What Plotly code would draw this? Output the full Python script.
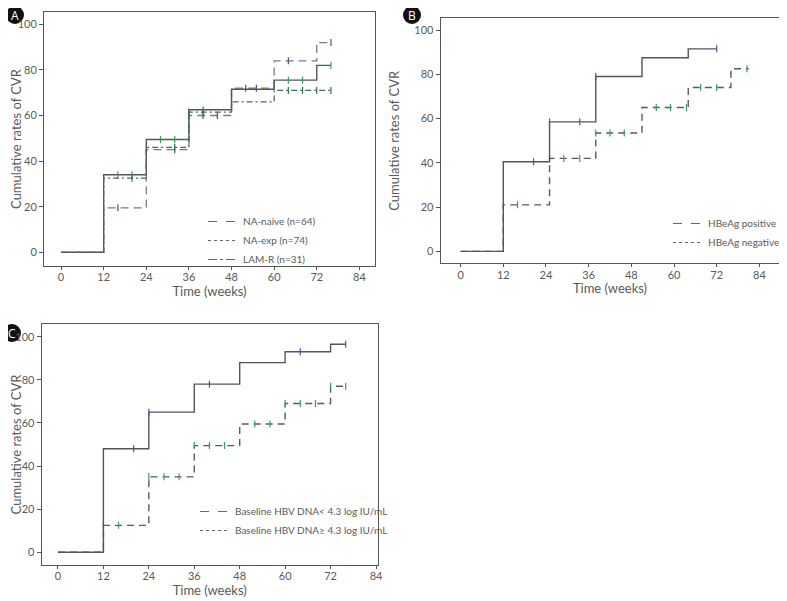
import plotly.graph_objects as go

# ---------------- data ----------------
# Panel A
A_time = [0, 12, 24, 36, 48, 60, 72, 76]
A_naive = [0, 19.5, 45, 60, 72, 84, 92, 92]
A_exp = [0, 34, 49.5, 62.5, 71.5, 75.5, 82, 82]
A_lamr = [0, 32.5, 46, 61.5, 66, 71, 71, 71]
A_naive_cens = [16, 32, 40, 44, 52, 55, 64, 76]
A_exp_cens = [16, 20, 28, 32, 40, 64, 68, 76]
A_lamr_cens = [20, 32, 36, 40, 64, 68, 72, 76]
A_names = ["NA-naive (n=64)", "NA-exp (n=74)", "LAM-R (n=31)"]

# Panel B
B_time_neg = [0, 12, 25, 38, 51, 64, 72]
B_neg = [0, 40.5, 58.5, 79, 87.5, 91.5, 91.5]
B_time_pos = [0, 12, 25, 38, 51, 64, 76, 81]
B_pos = [0, 21, 42, 53.5, 65, 74, 82.5, 82.5]
B_neg_cens = [20.5, 25, 33.5, 38, 72]
B_pos_cens = [16, 25, 29, 33.5, 38, 42, 46, 55, 59, 63.5, 67.5, 72, 80.5]
B_names = ["HBeAg positive", "HBeAg negative"]

# Panel C
C_time = [0, 12, 24, 36, 48, 60, 72, 76]
C_high = [0, 48, 65, 78, 88, 93, 96.5, 96.5]
C_low = [0, 12.5, 35, 49.5, 59.5, 69, 77, 77]
C_high_cens = [20, 24, 40, 64, 76]
C_low_cens = [12, 16, 24, 28, 32, 36, 40, 44, 52, 56, 60, 64, 68, 72, 76]
C_names = ["Baseline HBV DNA< 4.3 log IU/mL", "Baseline HBV DNA\u2265 4.3 log IU/mL"]

x_ticks = [0, 12, 24, 36, 48, 60, 72, 84]
y_ticks = [0, 20, 40, 60, 80, 100]

# ---------------- helpers ----------------
OFF = 8                      # page body margin
W, H = 787 - OFF, 601 - OFF  # figure size that fills the visible window
FONT = "Lato, Open Sans, sans-serif"
GREY = "#555555"
TXT = "#5a5a5a"
BLUE = "#5050b0"
GREEN = "#2fa35a"


def px(x):
    return (x - OFF) / W


def py(y):
    return 1 - (y - OFF) / H


def step_val(times, vals, t):
    v = vals[0]
    for ti, vi in zip(times, vals):
        if t >= ti - 1e-9:
            v = vi
    return v


fig = go.Figure()


def add_curve(xa, ya, times, vals, cens, color, dash, width, mcolor):
    fig.add_trace(go.Scatter(x=times, y=vals, mode="lines", line_shape="hv",
                             line=dict(color=color, dash=dash, width=width),
                             xaxis=xa, yaxis=ya, showlegend=False, hoverinfo="skip"))
    fig.add_trace(go.Scatter(x=cens, y=[step_val(times, vals, t) for t in cens], mode="markers",
                             marker=dict(symbol="line-ns", size=5, line=dict(color=mcolor, width=1.2)),
                             xaxis=xa, yaxis=ya, showlegend=False, hoverinfo="skip"))


def add_legend_item(xa, ya, name, dash, legend):
    fig.add_trace(go.Scatter(x=[None], y=[None], mode="lines", name=name,
                             line=dict(color="#666666", dash=dash, width=1),
                             xaxis=xa, yaxis=ya, showlegend=True, legend=legend))


# Panel A
add_curve("x", "y", A_time, A_naive, A_naive_cens, "#7a7a88", "8px,5px", 1.3, "#4b4b9b")
add_curve("x", "y", A_time, A_exp, A_exp_cens, GREY, "solid", 1.4, GREEN)
add_curve("x", "y", A_time, A_lamr, A_lamr_cens, "#4d6b5c", "6px,3px,2px,3px", 1.3, "#2e6e4e")
for name, d in zip(A_names, ["dash", "dot", "dashdot"]):
    add_legend_item("x", "y", name, d, "legend")

# Panel B
add_curve("x2", "y2", B_time_pos, B_pos, B_pos_cens, "#5a5a5a", "7px,5px", 1.4, GREEN)
add_curve("x2", "y2", B_time_neg, B_neg, B_neg_cens, GREY, "solid", 1.4, BLUE)
for name, d in zip(B_names, ["dash", "dot"]):
    add_legend_item("x2", "y2", name, d, "legend2")

# Panel C
add_curve("x3", "y3", C_time, C_low, C_low_cens, "#5a5a5a", "7px,5px", 1.4, GREEN)
add_curve("x3", "y3", C_time, C_high, C_high_cens, GREY, "solid", 1.4, BLUE)
for name, d in zip(C_names, ["dash", "dot"]):
    add_legend_item("x3", "y3", name, d, "legend3")


# ---------------- axes ----------------
def xaxis(domain, rng, anchor):
    return dict(domain=domain, range=rng, anchor=anchor, tickvals=x_ticks,
                ticks="outside", ticklen=3, tickcolor=GREY, showline=True, linecolor=GREY,
                linewidth=1, mirror=True, showgrid=False, zeroline=False, automargin=False,
                tickfont=dict(family=FONT, size=11, color=TXT), ticklabelstandoff=-2,
                title=dict(text="Time (weeks)", font=dict(family=FONT, size=13, color=TXT), standoff=2))


def yaxis(domain, rng, anchor):
    return dict(domain=domain, range=rng, anchor=anchor, tickvals=y_ticks,
                ticks="outside", ticklen=4, tickcolor=GREY, showline=True, linecolor=GREY,
                linewidth=1, mirror=True, showgrid=False, zeroline=False, automargin=False,
                tickfont=dict(family=FONT, size=11, color=TXT),
                title=dict(text="Cumulative rates of CVR", font=dict(family=FONT, size=13, color=TXT), standoff=11))


legend_common = dict(bgcolor="rgba(0,0,0,0)", font=dict(family=FONT, size=10, color=TXT),
                     xanchor="left", yanchor="top", itemwidth=30, tracegroupgap=0)

fig.update_layout(
    width=W, height=H, margin=dict(l=0, r=0, t=0, b=0),
    paper_bgcolor="white", plot_bgcolor="white",
    xaxis=xaxis([px(44), px(375)], [-4.8, 88.4], "y"),
    yaxis=yaxis([py(266), py(12)], [-6.0, 105.4], "x"),
    xaxis2=xaxis([px(440.7), px(779.3)], [-5.6, 89.6], "y2"),
    yaxis2=yaxis([py(263.3), py(18.3)], [-5.4, 105.3], "x2"),
    xaxis3=xaxis([px(41.7), px(377.7)], [-4.3, 84.45], "y3"),
    yaxis3=yaxis([py(565), py(324)], [-5.9, 105.9], "x3"),
    legend=dict(x=px(203), y=py(207), **legend_common),
    legend2=dict(x=px(668), y=py(209), **legend_common),
    legend3=dict(x=px(195), y=py(497), **legend_common),
    showlegend=True,
)

# panel letters
for letter, (cx, cy, r) in zip(["A", "B", "C"], [(15, 15, 9), (412, 15, 9), (12, 333, 9)]):
    fig.add_shape(type="circle", xref="paper", yref="paper", layer="below",
                  x0=px(cx - r), x1=px(cx + r), y0=py(cy + r), y1=py(cy - r),
                  fillcolor="#111111", line=dict(width=0))
    fig.add_annotation(x=px(cx), y=py(cy), xref="paper", yref="paper", text=letter,
                       xanchor="center", yanchor="middle", showarrow=False,
                       font=dict(family="Open Sans, sans-serif", size=12, color="white"))

fig.write_html("out.html")
